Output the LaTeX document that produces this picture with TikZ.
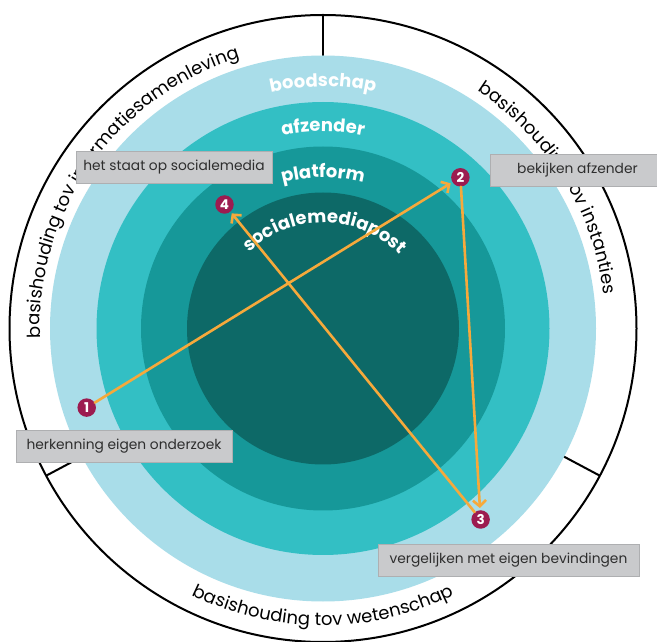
\documentclass[tikz,border=0pt]{standalone}
\usepackage{fontspec}
\setmainfont{Poppins}
\usetikzlibrary{arrows.meta,calc,decorations.text}

\definecolor{ringA}{HTML}{A9DDE9}
\definecolor{ringB}{HTML}{33BFC4}
\definecolor{ringC}{HTML}{169899}
\definecolor{ringD}{HTML}{0D6967}
\definecolor{stepred}{HTML}{9C1B50}
\definecolor{routeorange}{HTML}{F6A93B}
\definecolor{boxgrey}{HTML}{C9CACC}
\definecolor{boxedge}{HTML}{AEAFB1}
\definecolor{boxtext}{HTML}{2E2E2E}

\tikzset{
  stepdot/.style={circle,fill=stepred,text=white,minimum size=18.5pt,inner sep=0pt,
    font=\fontsize{13.5}{13.5}\selectfont\bfseries},
  notebox/.style={fill=boxgrey,draw=boxedge,line width=0.6pt,text=boxtext,
    minimum height=32pt,inner sep=0pt,font=\fontsize{13.8}{13.8}\selectfont},
  route/.style={draw=routeorange,line width=2.6pt,line cap=round,
    -{Straight Barb[length=6pt,width=13pt]},shorten >=2pt},
  divider/.style={line width=2pt},
}

\begin{document}
\begin{tikzpicture}[x=1pt,y=1pt]
\useasboundingbox (0,0) rectangle (657,641);
\coordinate (C) at (323,312.5);

%Shape: Circle
\draw [line width=2pt,fill=white] (C) circle [radius=313.5];
%Straight Lines
\draw [divider] ($(C)+(90:272)$) -- ($(C)+(90:313.5)$);
\draw [divider] ($(C)+(208:272)$) -- ($(C)+(208:313.5)$);
\draw [divider] ($(C)+(332:272)$) -- ($(C)+(332:313.5)$);

%Shape: Circle
\fill [ringA] (C) circle [radius=273];
\fill [ringB] (C) circle [radius=226.5];
\fill [ringC] (C) circle [radius=182];
\fill [ringD] (C) circle [radius=136];

% Text on arcs, outer ring
\path [decorate,decoration={text along path,text align=center,
  text={|\fontsize{18}{18}\selectfont|basishouding tov informatiesamenleving}}]
  ($(C)+(205:283)$) arc [start angle=205,end angle=84,radius=283];
\path [decorate,decoration={text along path,text align=center,
  text={|\fontsize{18}{18}\selectfont|basishouding tov instanties}}]
  ($(C)+(92:283)$) arc [start angle=92,end angle=-28,radius=283];
\path [decorate,decoration={text along path,text align=center,
  text={|\fontsize{18}{18}\selectfont|basishouding tov wetenschap}}]
  ($(C)+(210:297)$) arc [start angle=210,end angle=330,radius=297];

% Text on arcs, rings
\path [decorate,decoration={text along path,text align=center,text color=white,
  text={|\fontsize{18}{18}\selectfont\bfseries|boodschap}}]
  ($(C)+(150:242)$) arc [start angle=150,end angle=30,radius=242];
\path [decorate,decoration={text along path,text align=center,text color=white,
  text={|\fontsize{18}{18}\selectfont\bfseries|afzender}}]
  ($(C)+(150:197)$) arc [start angle=150,end angle=30,radius=197];
\path [decorate,decoration={text along path,text align=center,text color=white,
  text={|\fontsize{18}{18}\selectfont\bfseries|platform}}]
  ($(C)+(150:151)$) arc [start angle=150,end angle=30,radius=151];
\path [decorate,decoration={text along path,text align=center,text color=white,
  text={|\fontsize{18}{18}\selectfont\bfseries|socialemediapost}}]
  ($(C)+(170:106)$) arc [start angle=170,end angle=8,radius=106];

% Steps
\node [stepdot] (s1) at (86.7,233.4) {1};
\node [stepdot] (s2) at (460.4,463.7) {2};
\node [stepdot] (s3) at (480.6,121.5) {3};
\node [stepdot] (s4) at (224.5,436.5) {4};

%Straight Lines
\draw [route] (s1) -- (s2);
\draw [route] (s2) -- (s3);
\draw [route] (s3) -- (s4);

% Text Node
\node [notebox,minimum width=196pt] (box4) at (174,474) {het staat op socialemedia};
\node [notebox,minimum width=175pt] (box2) at (577.5,470.5) {bekijken afzender};
\node [notebox,minimum width=216pt] (box1) at (124,195) {herkenning eigen onderzoek};
\node [notebox,minimum width=261pt] (box3) at (508.5,81) {vergelijken met eigen bevindingen};

\end{tikzpicture}
\end{document}
